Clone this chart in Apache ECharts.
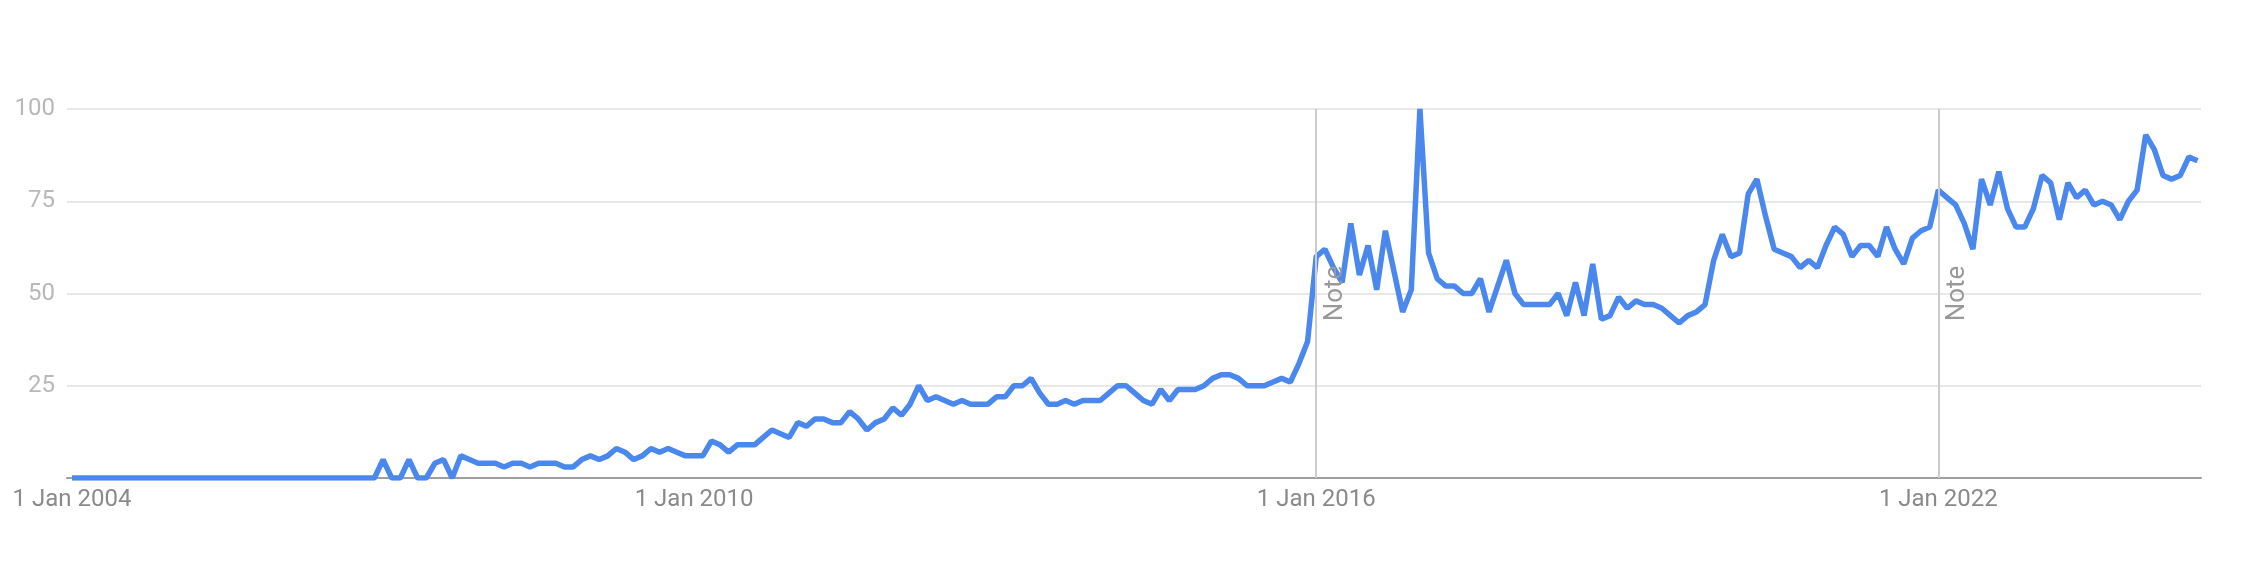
<!DOCTYPE html>
<html>
<head>
<meta charset="utf-8">
<script src="https://cdn.jsdelivr.net/npm/echarts@6/dist/echarts.min.js"></script>
<style>
  html, body { margin: 0; padding: 0; background: #fff; }
  #trend { width: 2248px; height: 570px; }
</style>
</head>
<body>
<div id="trend"></div>
<script>
// monthly interest, one array per year (Jan..Dec)
var y2004 = [0, 0, 0, 0, 0, 0, 0, 0, 0, 0, 0, 0];
var y2005 = [0, 0, 0, 0, 0, 0, 0, 0, 0, 0, 0, 0];
var y2006 = [0, 0, 0, 0, 0, 0, 0, 0, 0, 0, 0, 0];
var y2007 = [5, 0, 0, 5, 0, 0, 4, 5, 0, 6, 5, 4];
var y2008 = [4, 4, 3, 4, 4, 3, 4, 4, 4, 3, 3, 5];
var y2009 = [6, 5, 6, 8, 7, 5, 6, 8, 7, 8, 7, 6];
var y2010 = [6, 6, 10, 9, 7, 9, 9, 9, 11, 13, 12, 11];
var y2011 = [15, 14, 16, 16, 15, 15, 18, 16, 13, 15, 16, 19];
var y2012 = [17, 20, 25, 21, 22, 21, 20, 21, 20, 20, 20, 22];
var y2013 = [22, 25, 25, 27, 23, 20, 20, 21, 20, 21, 21, 21];
var y2014 = [23, 25, 25, 23, 21, 20, 24, 21, 24, 24, 24, 25];
var y2015 = [27, 28, 28, 27, 25, 25, 25, 26, 27, 26, 31, 37];
var y2016 = [60, 62, 57, 53, 69, 55, 63, 51, 67, 56, 45, 51];
var y2017 = [100, 61, 54, 52, 52, 50, 50, 54, 45, 52, 59, 50];
var y2018 = [47, 47, 47, 47, 50, 44, 53, 44, 58, 43, 44, 49];
var y2019 = [46, 48, 47, 47, 46, 44, 42, 44, 45, 47, 59, 66];
var y2020 = [60, 61, 77, 81, 71, 62, 61, 60, 57, 59, 57, 63];
var y2021 = [68, 66, 60, 63, 63, 60, 68, 62, 58, 65, 67, 68];
var y2022 = [78, 76, 74, 69, 62, 81, 74, 83, 73, 68, 68, 73];
var y2023 = [82, 80, 70, 80, 76, 78, 74, 75, 74, 70, 75, 78];
var y2024 = [93, 89, 82, 81, 82, 87, 86];

var firstYear = 2004;
var labelMonths = [0, 72, 144, 216];   // 1 Jan 2004, 2010, 2016, 2022
var noteMonths = [144, 216];           // "Note" markers
var yTicks = [25, 50, 75, 100];

var years = [y2004, y2005, y2006, y2007, y2008, y2009, y2010, y2011, y2012, y2013,
  y2014, y2015, y2016, y2017, y2018, y2019, y2020, y2021, y2022, y2023, y2024];

var points = [];
years.forEach(function (vals, yi) {
  vals.forEach(function (v, mi) {
    points.push([yi * 12 + mi, v]);
  });
});

var chart = echarts.init(document.getElementById('trend'));

var option = {
  animation: false,
  backgroundColor: '#fff',
  grid: { left: 67, right: 47, top: 109, bottom: 92 },
  xAxis: {
    type: 'value',
    min: -0.58,
    max: 246.4,
    axisLine: { show: true, lineStyle: { color: '#9e9e9e', width: 2 } },
    axisTick: { show: false },
    splitLine: { show: false },
    axisLabel: {
      customValues: labelMonths,
      margin: 10,
      color: '#8a8a8a',
      fontFamily: 'Roboto',
      fontSize: 24,
      formatter: function (v) {
        return '1 Jan ' + (firstYear + Math.round(v / 12));
      }
    }
  },
  yAxis: {
    type: 'value',
    min: 0,
    max: 100,
    interval: 25,
    axisLine: { show: false },
    axisTick: { show: false },
    splitLine: { lineStyle: { color: '#e0e0e0', width: 1.5 } },
    axisLabel: {
      customValues: yTicks,
      margin: 12,
      color: '#b8b8b8',
      fontFamily: 'Roboto',
      fontSize: 24
    }
  },
  series: [{
    type: 'line',
    data: points,
    showSymbol: false,
    lineStyle: { color: '#4a88ee', width: 5.5 },
    markLine: {
      silent: true,
      symbol: 'none',
      lineStyle: { color: '#cccccc', width: 2, type: 'solid' },
      label: {
        show: true,
        formatter: 'Note',
        position: 'insideMiddleBottom',
        distance: 6,
        color: '#999999',
        fontFamily: 'Roboto',
        fontSize: 26
      },
      data: noteMonths.map(function (m) { return { xAxis: m }; })
    },
    z: 3
  }]
};

chart.setOption(option);
</script>
</body>
</html>
